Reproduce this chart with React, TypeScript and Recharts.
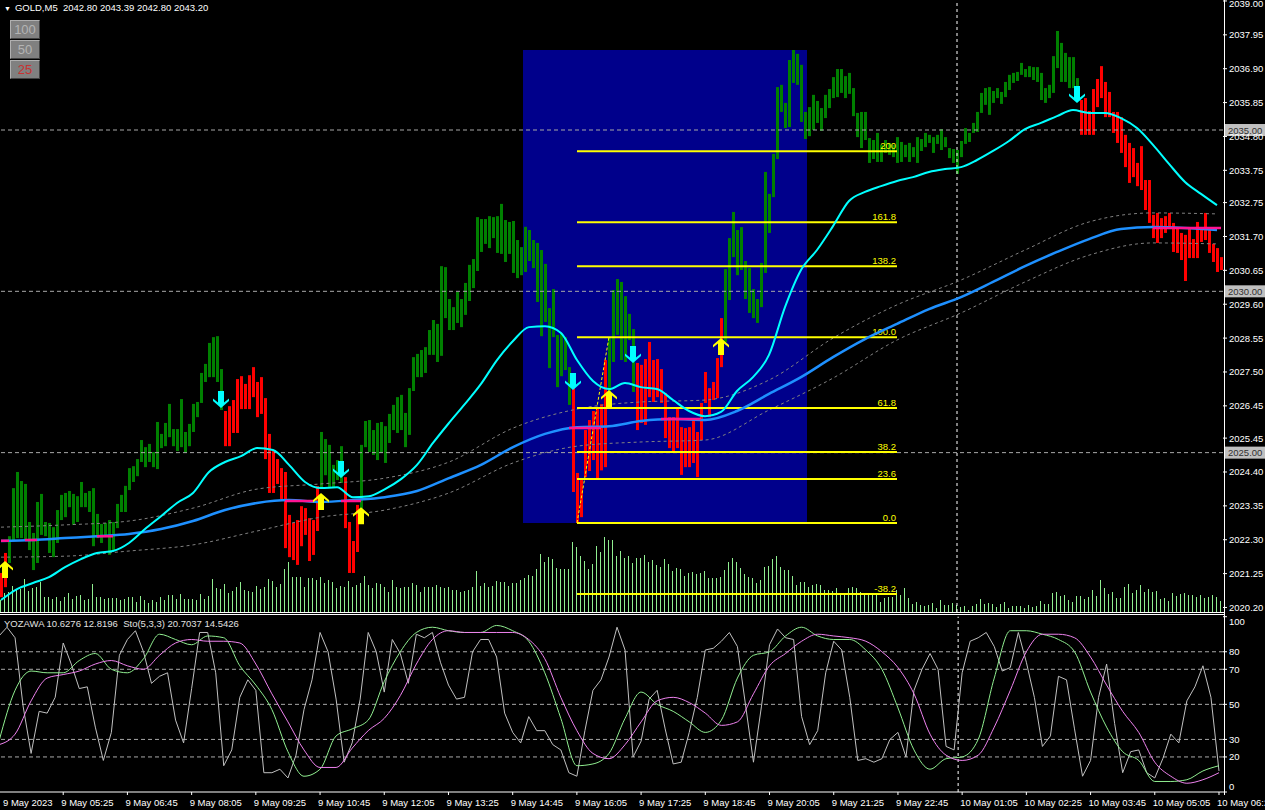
import React from "react";
import { Bar, ComposedChart, Line, ReferenceArea, ReferenceLine, XAxis, YAxis } from "recharts";

const FONT = "'Liberation Sans', Arial, sans-serif";
const GREEN = "#008000";
const RED = "#ff0000";

// price bars, one per 5-minute bar
const barHigh = [
  2021.27, 2021.89, 2022.41, 2023.9, 2024.4, 2024.12, 2024.03, 2022.85, 2022.51, 2023.47,
  2023.72, 2022.85, 2022.82, 2022.69, 2023.22, 2023.69, 2023.75, 2023.81, 2023.72, 2023.65,
  2024.09, 2023.75, 2023.81, 2023.9, 2023.1, 2022.79, 2022.82, 2022.91, 2022.85, 2023.41,
  2023.69, 2023.97, 2024.52, 2024.58, 2024.8, 2025.39, 2025.17, 2025.27, 2025.02, 2025.95,
  2025.58, 2025.92, 2026.51, 2025.73, 2025.73, 2026.66, 2025.64, 2025.89, 2026.51, 2026.57,
  2027.47, 2027.75, 2028.4, 2028.58, 2028.61, 2027.59, 2026.29, 2026.44, 2026.63, 2027.28,
  2027.37, 2027.13, 2027.4, 2027.65, 2027.19, 2027.34, 2026.69, 2025.58, 2025.05, 2024.8,
  2024.52, 2024.4, 2023.07, 2022.82, 2022.91, 2023.34, 2023.28, 2022.97, 2022.91, 2023.96,
  2025.64, 2025.42, 2025.24, 2024.62, 2024.77, 2025.2, 2024.24, 2022.85, 2022.26, 2023.38,
  2025.24, 2025.98, 2026.01, 2025.7, 2025.92, 2025.95, 2025.82, 2026.2, 2026.48, 2026.72,
  2026.79, 2026.23, 2027.0, 2027.96, 2028.06, 2028.18, 2028.27, 2028.8, 2029.11, 2028.99,
  2030.78, 2030.75, 2029.76, 2029.51, 2029.98, 2029.76, 2030.26, 2030.82, 2031.0, 2032.3,
  2032.24, 2032.24, 2032.33, 2032.3, 2032.33, 2032.71, 2032.21, 2032.15, 2032.18, 2031.59,
  2031.37, 2032.0, 2031.9, 2031.59, 2031.5, 2031.28, 2030.85, 2029.48, 2030.07, 2028.65,
  2028.71, 2028.58, 2027.65, 2027.0, 2024.37, 2024.15, 2025.7, 2026.01, 2026.29, 2026.38,
  2026.5, 2027.87, 2028.55, 2030.04, 2030.38, 2030.29, 2029.85, 2029.3, 2028.83, 2027.78,
  2027.72, 2027.9, 2028.43, 2027.87, 2027.9, 2027.59, 2026.85, 2026.1, 2026.1, 2026.41,
  2025.79, 2025.76, 2025.79, 2026.07, 2025.64, 2026.54, 2027.5, 2027.0, 2027.19, 2027.93,
  2029.17, 2030.69, 2031.65, 2032.46, 2031.9, 2031.99, 2030.94, 2030.72, 2030.07, 2029.76,
  2030.88, 2033.7, 2033.02, 2034.26, 2036.33, 2036.4, 2035.84, 2037.17, 2037.48, 2037.36,
  2037.02, 2035.56, 2035.71, 2036.09, 2035.9, 2035.68, 2036.09, 2036.27, 2036.64, 2036.89,
  2036.89, 2036.67, 2036.77, 2036.3, 2035.53, 2035.56, 2035.56, 2034.75, 2034.69, 2034.91,
  2034.54, 2034.69, 2034.6, 2034.54, 2034.78, 2034.63, 2034.54, 2034.6, 2034.47, 2034.78,
  2034.72, 2034.91, 2034.85, 2034.78, 2034.85, 2035.03, 2034.78, 2034.44, 2034.41, 2034.38,
  2034.66, 2035.06, 2034.91, 2035.22, 2035.56, 2036.15, 2036.3, 2036.33, 2036.21, 2036.3,
  2036.18, 2036.49, 2036.71, 2036.77, 2036.8, 2037.08, 2036.89, 2036.98, 2036.95, 2036.95,
  2036.77, 2036.3, 2036.4, 2037.29, 2038.07, 2037.7, 2037.39, 2037.26, 2037.26, 2036.61,
  2035.93, 2035.99, 2035.59, 2036.27, 2036.58, 2036.98, 2036.49, 2036.18, 2035.56, 2035.56,
  2035.4, 2034.85, 2034.6, 2034.44, 2033.98, 2034.5, 2033.45, 2033.45, 2032.37, 2032.43,
  2032.27, 2032.33, 2032.43, 2032.12, 2031.96, 2031.81, 2031.75, 2031.96, 2031.62, 2032.15,
  2031.93, 2032.43, 2031.9, 2031.47, 2031.34, 2031.06,
];

const barLow = [
  2020.52, 2020.83, 2021.58, 2022.29, 2022.35, 2022.35, 2022.29, 2021.98, 2021.36, 2021.58,
  2022.45, 2022.41, 2021.89, 2021.76, 2022.2, 2022.91, 2023.0, 2023.31, 2022.76, 2022.85,
  2023.31, 2023.31, 2023.16, 2022.1, 2022.35, 2022.2, 2022.38, 2021.83, 2021.98, 2022.66,
  2023.16, 2023.16, 2023.84, 2024.09, 2024.27, 2024.71, 2024.55, 2024.71, 2024.55, 2024.49,
  2025.14, 2025.2, 2025.48, 2025.2, 2025.05, 2025.17, 2024.99, 2025.2, 2025.64, 2026.1,
  2026.54, 2027.19, 2027.34, 2027.34, 2027.19, 2026.32, 2025.2, 2025.2, 2025.61, 2025.61,
  2026.35, 2026.35, 2026.35, 2026.72, 2026.1, 2026.2, 2024.8, 2023.75, 2023.75, 2024.03,
  2023.56, 2022.04, 2021.76, 2021.67, 2021.52, 2022.1, 2022.45, 2021.64, 2021.83, 2022.57,
  2023.93, 2024.3, 2023.93, 2023.93, 2024.15, 2024.06, 2022.66, 2021.27, 2021.27, 2021.92,
  2022.82, 2025.17, 2025.02, 2024.93, 2024.77, 2024.99, 2024.68, 2025.3, 2025.7, 2025.61,
  2025.7, 2025.17, 2025.55, 2026.91, 2027.34, 2027.34, 2027.47, 2028.03, 2028.03, 2027.81,
  2028.0, 2029.17, 2028.8, 2028.8, 2029.02, 2028.89, 2029.27, 2029.7, 2030.1, 2030.63,
  2031.22, 2031.47, 2031.34, 2031.65, 2031.19, 2031.16, 2030.91, 2031.16, 2030.57, 2030.41,
  2030.5, 2030.6, 2030.94, 2030.72, 2029.67, 2028.61, 2029.05, 2027.62, 2028.58, 2027.03,
  2027.37, 2027.56, 2026.48, 2023.78, 2022.82, 2023.0, 2024.24, 2024.43, 2024.77, 2024.18,
  2024.45, 2024.55, 2026.72, 2027.81, 2028.65, 2027.87, 2027.81, 2028.49, 2026.88, 2025.7,
  2025.92, 2025.86, 2026.72, 2026.57, 2026.72, 2026.54, 2025.45, 2025.14, 2025.02, 2025.14,
  2024.31, 2024.55, 2024.55, 2024.68, 2024.24, 2025.39, 2026.54, 2026.1, 2026.63, 2026.69,
  2027.65, 2028.43, 2029.73, 2031.06, 2030.5, 2030.66, 2029.76, 2029.33, 2029.17, 2029.02,
  2029.51, 2030.57, 2031.81, 2032.92, 2034.1, 2035.56, 2035.06, 2035.09, 2036.46, 2036.4,
  2035.25, 2034.72, 2034.81, 2035.0, 2035.22, 2034.97, 2035.37, 2035.68, 2035.99, 2036.02,
  2036.15, 2035.99, 2036.12, 2035.43, 2034.78, 2034.44, 2034.69, 2033.98, 2034.1, 2034.01,
  2034.01, 2034.29, 2034.23, 2034.16, 2033.98, 2034.01, 2034.16, 2034.01, 2034.16, 2033.98,
  2034.35, 2034.47, 2034.6, 2034.29, 2034.57, 2034.38, 2034.47, 2034.13, 2033.98, 2033.64,
  2034.16, 2034.57, 2034.63, 2034.91, 2034.94, 2035.53, 2035.78, 2035.47, 2035.84, 2035.99,
  2035.81, 2036.02, 2036.24, 2036.46, 2036.52, 2036.71, 2036.64, 2036.64, 2036.55, 2036.49,
  2035.93, 2035.84, 2035.99, 2036.15, 2036.92, 2036.49, 2036.49, 2036.3, 2036.3, 2036.09,
  2034.85, 2034.85, 2034.85, 2034.85, 2035.71, 2035.99, 2035.4, 2035.4, 2034.91, 2034.6,
  2034.29, 2033.85, 2033.36, 2033.54, 2033.26, 2033.14, 2032.52, 2032.12, 2031.65, 2031.5,
  2031.65, 2031.81, 2031.93, 2031.22, 2031.19, 2030.97, 2030.32, 2031.03, 2031.03, 2031.03,
  2031.53, 2031.59, 2031.19, 2030.91, 2030.6, 2030.66,
];

// bar colour runs: G = up trend (green), R = down trend (red)
const trendRuns: [string, number][] = [
  ["R", 2], ["G", 54], ["R", 24], ["G", 6], ["R", 4], ["G", 53],
  ["R", 9], ["G", 7], ["R", 22], ["G", 89], ["R", 36],
];

const volume = [
  12, 19, 20, 26, 22, 23, 33, 21, 24, 25, 30, 15, 15, 13, 15, 11, 15, 19, 13, 16,
  17, 12, 13, 28, 15, 15, 13, 14, 14, 14, 12, 13, 15, 15, 10, 16, 12, 9, 12, 10,
  15, 12, 17, 17, 13, 18, 13, 13, 13, 12, 18, 13, 16, 33, 24, 23, 28, 19, 21, 25,
  30, 22, 21, 20, 26, 23, 25, 33, 31, 25, 28, 43, 50, 35, 35, 35, 25, 34, 34, 32,
  35, 29, 32, 30, 24, 26, 25, 31, 25, 27, 29, 36, 27, 24, 29, 28, 25, 20, 32, 25,
  24, 25, 25, 29, 27, 20, 25, 25, 25, 27, 25, 24, 25, 22, 22, 20, 21, 22, 25, 41,
  26, 29, 25, 26, 31, 30, 30, 26, 29, 29, 32, 34, 37, 36, 43, 58, 50, 55, 53, 44,
  43, 43, 43, 70, 65, 56, 51, 43, 48, 66, 60, 75, 72, 72, 56, 61, 54, 56, 49, 54,
  54, 57, 50, 52, 47, 45, 53, 48, 41, 44, 43, 36, 39, 40, 38, 39, 41, 34, 34, 34,
  35, 42, 50, 54, 50, 44, 38, 35, 34, 29, 32, 45, 46, 53, 56, 45, 42, 42, 36, 27,
  30, 30, 25, 27, 28, 27, 22, 22, 21, 24, 17, 19, 24, 25, 24, 20, 17, 17, 17, 17,
  10, 14, 15, 15, 22, 17, 24, 14, 8, 10, 7, 6, 7, 9, 4, 12, 7, 7, 9, 7,
  5, 6, 2, 6, 8, 13, 8, 9, 8, 5, 8, 10, 4, 6, 6, 6, 4, 7, 5, 6,
  11, 8, 8, 19, 20, 16, 17, 12, 10, 16, 16, 13, 15, 22, 16, 32, 24, 18, 20, 14,
  14, 25, 28, 19, 22, 27, 20, 23, 20, 21, 13, 14, 11, 19, 16, 18, 19, 17, 17, 15,
  17, 14, 15, 17, 15, 11,
];

// fast MA, read every 4th bar
const cyanMA = [
  2020.43, 2020.77, 2020.96, 2021.14, 2021.45, 2021.7, 2021.89, 2021.95, 2022.2, 2022.63,
  2023.03, 2023.44, 2023.75, 2024.4, 2024.71, 2024.89, 2025.14, 2025.08, 2024.62, 2024.09,
  2023.9, 2023.93, 2023.62, 2023.65, 2023.87, 2024.18, 2024.62, 2025.3, 2025.92, 2026.51,
  2027.13, 2027.87, 2028.46, 2028.89, 2028.92, 2028.71, 2027.87, 2027.22, 2026.97, 2027.16,
  2027.03, 2026.97, 2026.63, 2026.29, 2026.13, 2026.26, 2026.91, 2027.34, 2028.03, 2029.51,
  2030.66, 2031.28, 2032.02, 2032.8, 2033.08, 2033.26, 2033.42, 2033.54, 2033.7, 2033.79,
  2033.85, 2034.07, 2034.35, 2034.66, 2035.03, 2035.22, 2035.43, 2035.62, 2035.53, 2035.53,
  2035.37, 2035.06, 2034.54, 2033.95, 2033.39, 2033.02, 2032.67,
];

// slow MA, read every 8th bar
const blueMA = [
  2022.26, 2022.29, 2022.35, 2022.41, 2022.48, 2022.63, 2022.88, 2023.22, 2023.44, 2023.53,
  2023.47, 2023.53, 2023.62, 2023.81, 2024.21, 2024.62, 2025.17, 2025.58, 2025.79, 2025.82,
  2025.98, 2026.04, 2026.01, 2026.29, 2026.82, 2027.34, 2027.96, 2028.52, 2028.99, 2029.45,
  2029.82, 2030.29, 2030.78, 2031.22, 2031.62, 2031.93, 2031.99, 2031.96, 2031.9,
];

// envelope bands, read every 16th bar
const envUpper = [
  2022.69, 2022.76, 2022.88, 2023.28, 2023.87, 2024.03, 2024.21, 2024.71, 2025.76, 2026.35,
  2026.57, 2026.63, 2027.25, 2028.55, 2029.58, 2030.35, 2031.28, 2032.15, 2032.43, 2032.4,
];
const envLower = [
  2021.76, 2021.79, 2021.95, 2022.14, 2022.57, 2023.0, 2023.22, 2023.75, 2024.68, 2025.2,
  2025.33, 2025.39, 2026.32, 2027.31, 2028.49, 2029.33, 2030.29, 2031.12, 2031.5, 2031.47,
];

// flat pink stretches drawn over the slow MA
const pinkSegments = [
  { from: 0, to: 2, level: 2022.27 },
  { from: 6, to: 9, level: 2022.29 },
  { from: 24, to: 28, level: 2022.41 },
  { from: 71, to: 78, level: 2023.5 },
  { from: 85, to: 90, level: 2023.5 },
  { from: 142, to: 150, level: 2025.76 },
  { from: 165, to: 175, level: 2026.04 },
  { from: 288, to: 305, level: 2031.96 },
];

const upArrows = [
  { bar: 1, price: 2021.64 },
  { bar: 80, price: 2023.75 },
  { bar: 90, price: 2023.31 },
  { bar: 152, price: 2026.94 },
  { bar: 180, price: 2028.55 },
];
const downArrows = [
  { bar: 55, price: 2026.38 },
  { bar: 85, price: 2024.21 },
  { bar: 143, price: 2026.94 },
  { bar: 158, price: 2027.78 },
  { bar: 269, price: 2035.84 },
];

const fibLevels = [200, 161.8, 138.2, 100, 61.8, 38.2, 23.6, 0, -38.2];
const fibLabels = ["200", "161.8", "138.2", "100.0", "61.8", "38.2", "23.6", "0.0", "-38.2"];
const fibLow = 2022.82;
const fibHigh = 2028.58;
const fibFrom = 144;
const fibTo = 224;
const fibTrendTo = 152;
const boxFrom = 131;
const boxTo = 201;
const boxTop = 2037.48;

const priceTicks = [
  2039.0, 2037.95, 2036.9, 2035.85, 2034.8, 2033.75, 2032.75, 2031.7, 2030.65, 2029.6,
  2028.55, 2027.5, 2026.45, 2025.45, 2024.4, 2023.35, 2022.3, 2021.25, 2020.2,
];
const priceLines = [2035.0, 2030.0, 2025.0];
const separatorBar = 239;

// oscillator window
const stochMain = [
  29, 58, 69, 68, 68, 75, 79, 70, 68, 76, 90, 87, 84, 89, 88, 72, 61, 47, 23, 9,
  13, 32, 36, 41, 63, 80, 91, 94, 92, 91, 91, 95, 92, 86, 68, 42, 15, 16, 22, 42,
  57, 50, 46, 40, 34, 41, 65, 78, 80, 89, 94, 89, 87, 87, 81, 70, 48, 24, 13, 19,
  20, 30, 65, 92, 92, 90, 87, 80, 57, 37, 23, 18, 6, 6, 7, 12, 15,
];
const stochSignal = [
  27, 33, 52, 65, 67, 69, 73, 75, 72, 70, 78, 85, 87, 86, 86, 85, 73, 56, 40, 24,
  14, 14, 25, 35, 42, 55, 73, 87, 92, 91, 91, 91, 91, 87, 76, 54, 35, 22, 19, 27,
  40, 52, 54, 51, 45, 38, 40, 56, 72, 79, 86, 90, 89, 88, 86, 80, 71, 56, 33, 21,
  18, 21, 37, 58, 80, 90, 90, 88, 77, 61, 46, 34, 17, 9, 5, 7, 11,
];
// fast line, read every 2nd bar
const yozawa = [
  89, 94, 88, 49, 22, 46, 45, 54, 85, 73, 59, 60, 37, 18, 34, 78, 87, 92, 80, 62,
  66, 68, 41, 28, 59, 91, 91, 68, 15, 24, 54, 64, 58, 11, 11, 13, 8, 21, 47, 64,
  91, 80, 53, 17, 28, 53, 91, 80, 57, 87, 79, 62, 90, 88, 91, 74, 61, 53, 54, 80,
  87, 87, 77, 45, 34, 28, 43, 35, 35, 27, 24, 11, 9, 35, 58, 64, 77, 94, 81, 20,
  29, 53, 58, 36, 16, 17, 34, 54, 81, 82, 86, 91, 83, 50, 17, 49, 84, 93, 88, 87,
  43, 27, 35, 68, 86, 81, 54, 18, 19, 17, 19, 30, 34, 20, 58, 70, 79, 70, 26, 24,
  68, 86, 88, 91, 83, 69, 71, 91, 74, 54, 26, 32, 66, 64, 36, 9, 18, 54, 73, 39,
  11, 23, 24, 11, 8, 19, 33, 28, 52, 60, 72, 54, 12,
];
const oscLevels = [80, 70, 50, 30, 20];
const oscTicks = [0, 20, 30, 50, 70, 80, 100];

const timeLabels = [
  "9 May 2023", "9 May 05:25", "9 May 06:45", "9 May 08:05", "9 May 09:25",
  "9 May 10:45", "9 May 12:05", "9 May 13:25", "9 May 14:45", "9 May 16:05",
  "9 May 17:25", "9 May 18:45", "9 May 20:05", "9 May 21:25", "9 May 22:45",
  "10 May 01:05", "10 May 02:25", "10 May 03:45", "10 May 05:05", "10 May 06:25",
];

const PMIN = 2020.06;
const PMAX = 2039.03;

const trend = trendRuns.flatMap(([c, n]) => Array(n).fill(c));

const rows = barHigh.map((high, i) => {
  const row: any = { i, range: [barLow[i], high], up: trend[i] === "G", vol: volume[i] };
  if (i % 2 === 0) row.yoz = yozawa[i / 2];
  if (i % 4 === 0) {
    row.cyan = cyanMA[i / 4];
    row.main = stochMain[i / 4];
    row.signal = stochSignal[i / 4];
  }
  if (i % 8 === 0) row.blue = blueMA[i / 8];
  if (i % 16 === 0) {
    row.envUp = envUpper[i / 16];
    row.envDn = envLower[i / 16];
  }
  pinkSegments.forEach((s) => {
    if (i >= s.from && i <= s.to) row.pink = s.level;
  });
  const ua = upArrows.find((a) => a.bar === i);
  if (ua) row.upArrow = ua.price;
  const da = downArrows.find((a) => a.bar === i);
  if (da) row.downArrow = da.price;
  return row;
});

function PriceBar(p: any) {
  const { x, y, width, height, payload } = p;
  if (y == null || height == null || isNaN(y)) return <g />;
  const top = Math.min(y, y + height);
  return (
    <rect x={x + width / 2 - 1} y={top} width={3} height={Math.max(Math.abs(height), 1)} fill={payload.up ? GREEN : RED} />
  );
}

function VolumeBar(p: any) {
  const { x, y, width, height } = p;
  if (y == null || isNaN(y)) return <g />;
  return <rect x={x + width / 2 - 1} y={y} width={1} height={height} fill="#90ee90" />;
}

function arrowPoints(cx: number, cy: number, dir: number) {
  const shape = [
    [0, 0], [8, 7], [8, 9.5], [3, 5.5], [3, 17], [-3, 17], [-3, 5.5], [-8, 9.5], [-8, 7],
  ];
  return shape.map(([dx, dy]) => `${cx + dx},${cy + dir * dy}`).join(" ");
}

const UpArrow = (p: any) => {
  if (p.cx == null || p.cy == null || isNaN(p.cy)) return <g key={p.key ?? p.index} />;
  return <polygon key={p.key ?? p.index} points={arrowPoints(p.cx, p.cy, 1)} fill="#ffff00" />;
};

const DownArrow = (p: any) => {
  if (p.cx == null || p.cy == null || isNaN(p.cy)) return <g key={p.key ?? p.index} />;
  return <polygon key={p.key ?? p.index} points={arrowPoints(p.cx, p.cy, -1)} fill="#00ffff" />;
};

function PriceTick(p: any) {
  const y = Math.max(p.y, 3);
  return (
    <text x={p.x} y={y} dominantBaseline="central" fontSize={9.5} fill="#ffffff" fontFamily={FONT}>
      {Number(p.payload.value).toFixed(2)}
    </text>
  );
}

function OscTick(p: any) {
  const y = Math.min(Math.max(p.y, 9), 174);
  return (
    <text x={p.x} y={y} dominantBaseline="central" fontSize={9.5} fill="#ffffff" fontFamily={FONT}>
      {p.payload.value}
    </text>
  );
}

function TimeTick(p: any) {
  const label = timeLabels[Math.round(p.payload.value / 16)] ?? "";
  return (
    <text x={Math.max(p.x - 2, 4)} y={p.y + 9} textAnchor="start" fontSize={9.5} fill="#ffffff" fontFamily={FONT}>
      {label}
    </text>
  );
}

function AxisBadge(p: any) {
  const { viewBox, text } = p;
  if (!viewBox) return null;
  const left = viewBox.x + viewBox.width + 1;
  return (
    <g>
      <rect x={left} y={viewBox.y - 6} width={42} height={12} fill="#c0c0c0" />
      <text x={left + 4} y={viewBox.y} dominantBaseline="central" fontSize={9.5} fill="#303030" fontFamily={FONT}>
        {text}
      </text>
    </g>
  );
}

function FibLabel(p: any) {
  const { viewBox, text } = p;
  if (!viewBox) return null;
  return (
    <text x={viewBox.x + viewBox.width - 1} y={viewBox.y - 2} textAnchor="end" fontSize={9.5} fill="#ffff00" fontFamily={FONT}>
      {text}
    </text>
  );
}

const CHART_W = 1266;
const MARGIN = { top: 0, right: 0, bottom: 0, left: 0 };

function Button({ top, label, color }: { top: number; label: string; color: string }) {
  return (
    <div
      style={{
        position: "absolute", left: 10, top, width: 30, height: 19, boxSizing: "border-box",
        background: "#808080", borderTop: "1px solid #b0b0b0", borderLeft: "1px solid #b0b0b0",
        borderBottom: "1px solid #404040", borderRight: "1px solid #404040",
        color, fontFamily: FONT, fontSize: 13, lineHeight: "17px", textAlign: "center",
      }}
    >
      {label}
    </div>
  );
}

export default function App() {
  return (
    <div style={{ position: "absolute", left: 0, top: 0, width: 1265, height: 810, background: "#000", overflow: "hidden" }}>
      {/* background layer: box and volumes */}
      <div style={{ position: "absolute", left: -1, top: 0 }}>
        <ComposedChart width={CHART_W} height={612} data={rows} margin={MARGIN} barCategoryGap={0} barGap={0}>
          <XAxis dataKey="i" hide />
          <YAxis yAxisId="p" orientation="right" width={42} domain={[PMIN, PMAX]} allowDataOverflow tick={false} axisLine={false} tickLine={false} />
          <YAxis yAxisId="v" orientation="right" width={0} hide domain={[0, 612]} allowDataOverflow />
          <ReferenceArea yAxisId="p" x1={boxFrom} x2={boxTo} y1={fibLow} y2={boxTop} fill="#00008b" fillOpacity={1} stroke="none" />
          <Bar yAxisId="v" dataKey="vol" shape={VolumeBar} isAnimationActive={false} />
        </ComposedChart>
      </div>

      {/* price layer */}
      <div style={{ position: "absolute", left: -1, top: 0 }}>
        <ComposedChart width={CHART_W} height={612} data={rows} margin={MARGIN} barCategoryGap={0} barGap={0}>
          <XAxis dataKey="i" hide />
          <YAxis
            yAxisId="p" orientation="right" width={42} domain={[PMIN, PMAX]} allowDataOverflow
            ticks={priceTicks} interval={0} tick={PriceTick} tickSize={4} tickMargin={2}
            tickLine={{ stroke: "#ffffff" }} axisLine={false}
          />
          {priceLines.map((v) => (
            <ReferenceLine key={v} yAxisId="p" y={v} stroke="#a8a8a8" strokeDasharray="4 3" label={<AxisBadge text={v.toFixed(2)} />} />
          ))}
          <ReferenceLine yAxisId="p" x={separatorBar} stroke="#ffffff" strokeDasharray="3 3" />
          <Line yAxisId="p" dataKey="envUp" type="monotone" stroke="#808080" strokeWidth={1} strokeDasharray="3 3" dot={false} activeDot={false} connectNulls isAnimationActive={false} />
          <Line yAxisId="p" dataKey="envDn" type="monotone" stroke="#808080" strokeWidth={1} strokeDasharray="3 3" dot={false} activeDot={false} connectNulls isAnimationActive={false} />
          <Bar yAxisId="p" dataKey="range" shape={PriceBar} isAnimationActive={false} />
          {fibLevels.map((lv, k) => {
            const price = fibLow + ((fibHigh - fibLow) * lv) / 100;
            return (
              <ReferenceLine
                key={lv} yAxisId="p" ifOverflow="visible"
                segment={[{ x: fibFrom, y: price }, { x: fibTo, y: price }]}
                stroke="#ffff00" strokeWidth={2}
                label={<FibLabel text={fibLabels[k]} />}
              />
            );
          })}
          <ReferenceLine
            yAxisId="p" ifOverflow="visible"
            segment={[{ x: fibFrom, y: fibLow }, { x: fibTrendTo, y: fibHigh }]}
            stroke="#ffff00" strokeWidth={1} strokeDasharray="3 2"
          />
          <Line yAxisId="p" dataKey="blue" type="monotone" stroke="#1e90ff" strokeWidth={2.5} dot={false} activeDot={false} connectNulls isAnimationActive={false} />
          <Line yAxisId="p" dataKey="pink" type="linear" stroke="#ff1493" strokeWidth={2.5} dot={false} activeDot={false} isAnimationActive={false} />
          <Line yAxisId="p" dataKey="cyan" type="monotone" stroke="#00ffff" strokeWidth={2} dot={false} activeDot={false} connectNulls isAnimationActive={false} />
          <Line yAxisId="p" dataKey="upArrow" stroke="none" dot={UpArrow} activeDot={false} isAnimationActive={false} />
          <Line yAxisId="p" dataKey="downArrow" stroke="none" dot={DownArrow} activeDot={false} isAnimationActive={false} />
        </ComposedChart>
      </div>

      {/* oscillator window */}
      <div style={{ position: "absolute", left: -1, top: 612 }}>
        <ComposedChart width={CHART_W} height={198} data={rows} margin={{ top: 4.7, right: 0, bottom: 0, left: 0 }}>
          <XAxis
            dataKey="i" interval={15} height={18} tick={TimeTick} tickSize={3}
            tickLine={{ stroke: "#ffffff" }} axisLine={{ stroke: "#ffffff" }}
          />
          <YAxis
            orientation="right" width={42} domain={[0, 100]} allowDataOverflow ticks={oscTicks} interval={0}
            tick={OscTick} tickSize={4} tickMargin={2} tickLine={{ stroke: "#ffffff" }} axisLine={false}
          />
          {oscLevels.map((l) => (
            <ReferenceLine key={l} y={l} stroke="#a8a8a8" strokeDasharray="4 3" />
          ))}
          <ReferenceLine x={separatorBar} stroke="#ffffff" strokeDasharray="3 3" />
          <Line dataKey="yoz" type="linear" stroke="#c0c0c0" strokeWidth={1} dot={false} activeDot={false} connectNulls isAnimationActive={false} />
          <Line dataKey="main" type="monotone" stroke="#90ee90" strokeWidth={1} dot={false} activeDot={false} connectNulls isAnimationActive={false} />
          <Line dataKey="signal" type="monotone" stroke="#ee82ee" strokeWidth={1} dot={false} activeDot={false} connectNulls isAnimationActive={false} />
        </ComposedChart>
      </div>

      {/* window frames */}
      <div style={{ position: "absolute", left: 0, top: 612, width: 1224, height: 1, background: "#ffffff" }} />
      <div style={{ position: "absolute", left: 0, top: 614, width: 1224, height: 1, background: "#ffffff" }} />
      <div style={{ position: "absolute", left: 1224, top: 0, width: 1, height: 795, background: "#ffffff" }} />

      {/* header */}
      <div style={{ position: "absolute", left: 4, top: 2, fontFamily: FONT, fontSize: 9.5, color: "#ffffff", whiteSpace: "pre", lineHeight: "12px" }}>
        <span style={{ fontSize: 7, marginRight: 4 }}>▼</span>GOLD,M5  2042.80 2043.39 2042.80 2043.20
      </div>
      <Button top={20} label="100" color="#b4b4b4" />
      <Button top={40} label="50" color="#b4b4b4" />
      <Button top={60} label="25" color="#c83232" />
      <div style={{ position: "absolute", left: 4, top: 618, fontFamily: FONT, fontSize: 9.5, color: "#e0e0e0", whiteSpace: "pre", lineHeight: "12px" }}>
        YOZAWA 10.6276 12.8196  Sto(5,3,3) 20.7037 14.5426
      </div>
    </div>
  );
}
